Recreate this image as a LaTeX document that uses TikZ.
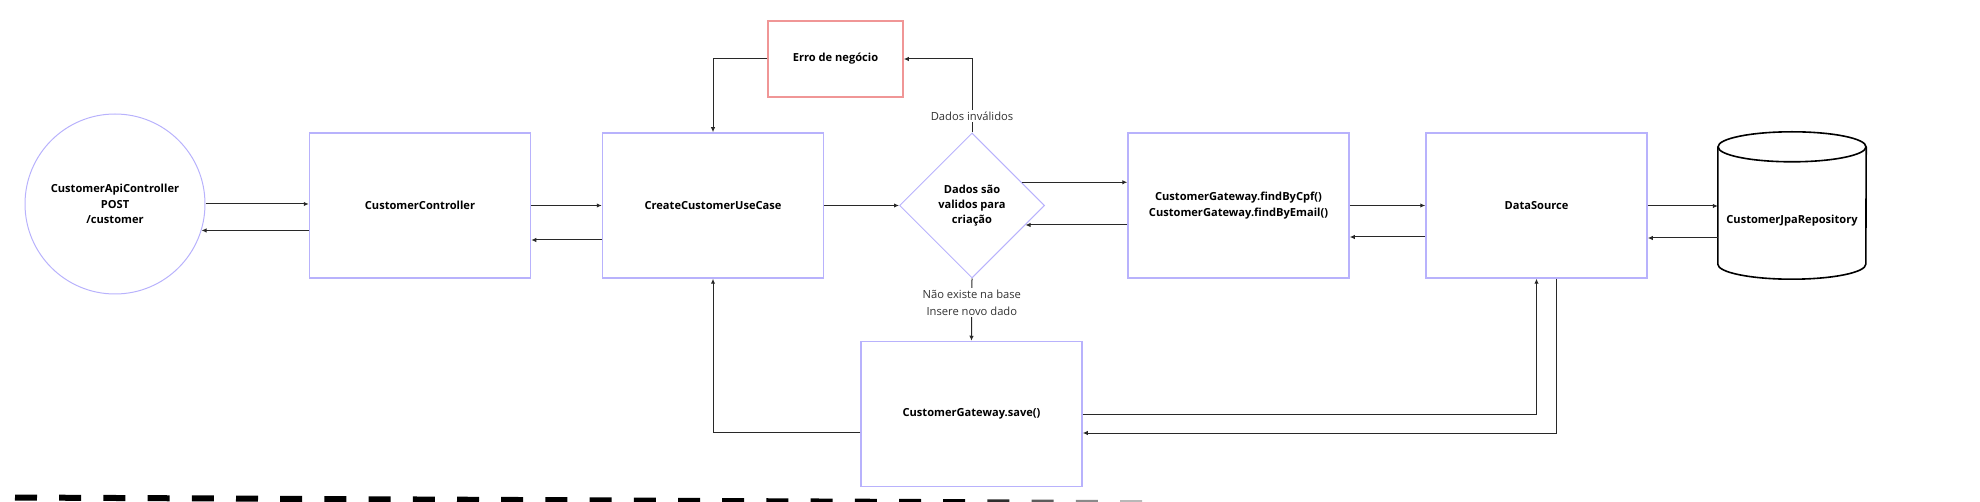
\documentclass[tikz,border=0pt]{standalone}
\usepackage{fontspec}
\setmainfont{Open Sans}
\usetikzlibrary{shapes.geometric, positioning, arrows.meta}

\definecolor{lilac}{RGB}{184,178,252}
\definecolor{salmon}{RGB}{240,150,150}
\definecolor{wire}{RGB}{40,40,40}

\begin{document}
\begin{tikzpicture}[
                x=1pt, y=-1pt,
                txt/.style={align=center, font=\fontsize{11.1}{15.2}\selectfont\bfseries},
                box/.style={txt, draw=lilac, line width=1.5pt, rectangle, inner sep=0pt, minimum width=221pt, minimum height=145pt},
                errbox/.style={box, draw=salmon, minimum width=135pt, minimum height=76pt},
                startnode/.style={txt, draw=lilac, line width=1pt, circle, inner sep=0pt, minimum size=180pt},
                decision/.style={txt, draw=lilac, line width=1pt, diamond, aspect=1, inner sep=0pt, minimum width=145pt, minimum height=145pt},
                dbnode/.style={txt, rectangle, inner sep=0pt, minimum width=148pt, minimum height=117pt},
                dbline/.style={draw=black, line width=1.6pt},
                lbl/.style={align=center, fill=white, inner sep=1.5pt, text=black!80, font=\fontsize{11.2}{17}\selectfont},
                flow/.style={draw=wire, line width=1pt, -{Latex[length=5pt, width=4.5pt]}}
            ]

            \useasboundingbox (0,0) rectangle (1980,502);

            % nodes
            \node[startnode] (api) at (115,204) {CustomerApiController\\POST\\/customer};
            \node[box] (ctrl) at (420,205.5) {CustomerController};
            \node[box] (usecase) at (713,205.5) {CreateCustomerUseCase};
            \node[errbox] (err) at (835.5,59) {Erro de negócio};
            \node[decision] (valid) at (972,205.5) {Dados são\\validos para\\criação};
            \node[box] (find) at (1238.5,205.5) {CustomerGateway.findByCpf()\\CustomerGateway.findByEmail()};
            \node[box] (ds) at (1536.5,205.5) {DataSource};
            \node[dbnode] (repo) at (1792,220.5) {CustomerJpaRepository};
            \node[box] (save) at (971.5,414) {CustomerGateway.save()};

            % cylinder
            \draw[dbline] ([yshift=15pt]repo.north) ellipse [x radius=74pt, y radius=15pt];
            \draw[dbline] ([yshift=15pt]repo.north west) -- ([yshift=15pt]repo.south west)
                arc[start angle=180, end angle=360, x radius=74pt, y radius=15pt]
                -- ([yshift=15pt]repo.north east);

            % main flow
            \draw[flow] (api.east) -- (ctrl.west |- api.east);
            \draw[flow] (api.-17.5 -| ctrl.west) -- (api.-17.5);
            \draw[flow] (ctrl.east) -- (usecase.west);
            \draw[flow] ([yshift=-34.5pt]usecase.west) -- ([yshift=-34.5pt]ctrl.east);
            \draw[flow] (usecase.east) -- (valid.west);
            \draw[flow] (valid.25) -- (valid.25 -| find.west);
            \draw[flow] (valid.-20 -| find.west) -- (valid.-20);
            \draw[flow] (find.east) -- (ds.west);
            \draw[flow] ([yshift=-31.5pt]ds.west) -- ([yshift=-31.5pt]find.east);
            \draw[flow] (ds.east |- 0,206) -- (repo.west |- 0,206);
            \draw[flow] (repo.west |- 0,238) -- (ds.east |- 0,238);

            % error branch
            \draw[flow] (valid.north) -- node[lbl, pos=0.22] {Dados inválidos} (valid.north |- err.east) -- (err.east);
            \draw[flow] (err.west) -| (usecase.north);

            % insert branch
            \draw[flow] (valid.south) -- node[lbl, pos=0.39] {Não existe na base\\Insere novo dado} (save.north);
            \draw[flow] ([yshift=-18pt]save.west) -| (usecase.south);
            \draw[flow] (save.east) -| (ds.south);
            \draw[flow] ([xshift=19.5pt]ds.south) |- ([yshift=-19pt]save.east);

            % cut line
            \begin{scope}
                \clip (0,0) rectangle (1980,502);
                \foreach \i in {0,...,25} {
                    \pgfmathtruncatemacro\shade{100-max(0,\i-21)*18}
                    \draw[line width=6pt, black!\shade] ({15+44.2*\i},{497.5+0.22*\i}) -- ++(22,0.1);
                }
            \end{scope}
        \end{tikzpicture}
\end{document}
